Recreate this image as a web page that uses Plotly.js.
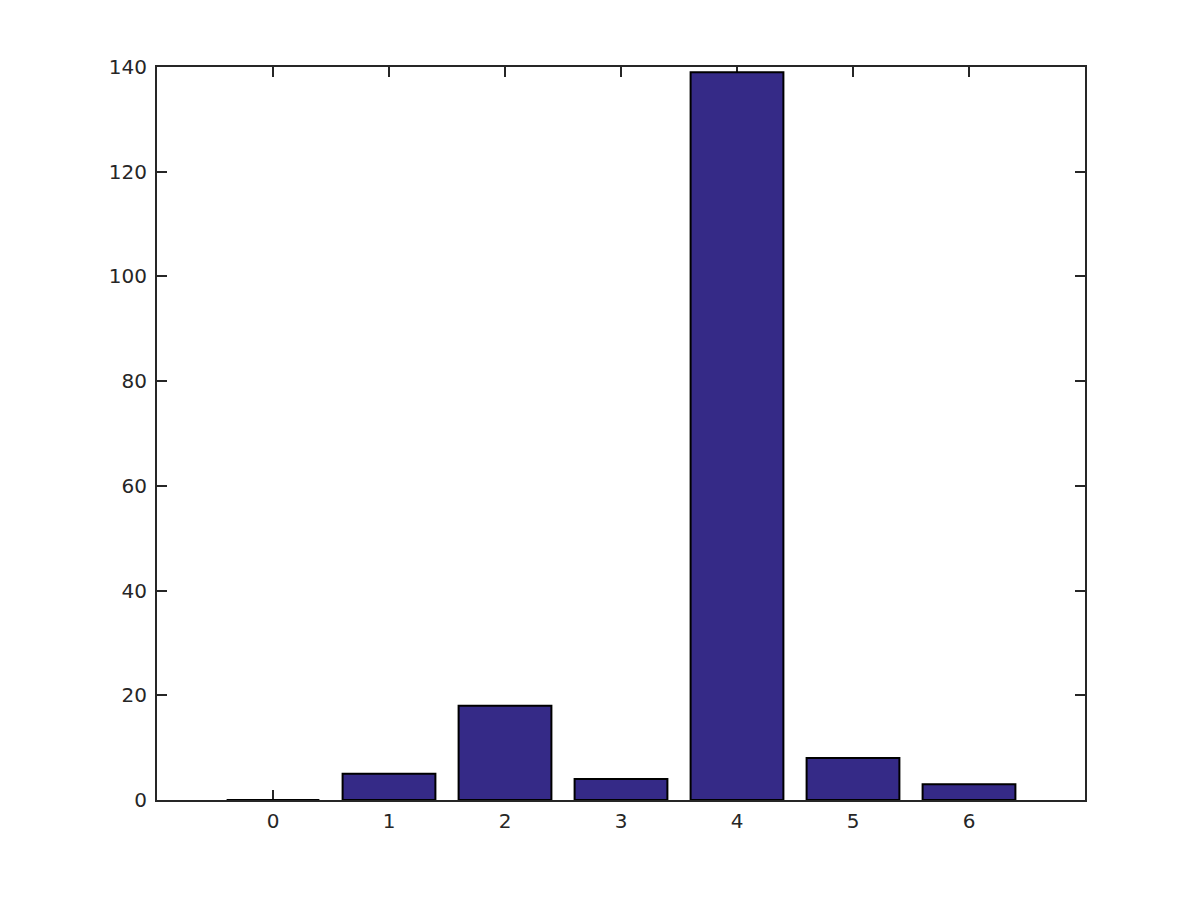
<!DOCTYPE html>
<html>
<head>
<meta charset="utf-8">
<script src="https://cdn.plot.ly/plotly-3.0.1.min.js"></script>
<style>html,body{margin:0;padding:0;background:#fff;}#chart{width:1200px;height:900px;}</style>
</head>
<body>
<div id="chart"></div>
<script>
const categories = [0, 1, 2, 3, 4, 5, 6];
const counts = [0, 5, 18, 4, 139, 8, 3];
const yTicks = [0, 20, 40, 60, 80, 100, 120, 140];

const axisColor = '#262626';
const trace = {
  type: 'bar',
  x: categories,
  y: counts,
  width: 0.8,
  marker: {color: '#352a87', line: {color: '#000000', width: 2}},
  hoverinfo: 'x+y'
};
const layout = {
  width: 1200, height: 900,
  margin: {l: 157, r: 115, t: 67, b: 100, pad: 0},
  paper_bgcolor: '#ffffff', plot_bgcolor: '#ffffff',
  showlegend: false,
  font: {family: 'DejaVu Sans, sans-serif', size: 20, color: axisColor},
  xaxis: {
    range: [-1, 7], tickvals: categories, ticktext: categories.map(String),
    ticks: 'inside', ticklen: 10, tickwidth: 2, tickcolor: axisColor,
    showline: true, linecolor: axisColor, linewidth: 2, mirror: 'ticks',
    showgrid: false, zeroline: false, fixedrange: true,
    layer: 'below traces', ticklabelstandoff: 2
  },
  yaxis: {
    range: [0, 140], tickvals: yTicks,
    ticks: 'inside', ticklen: 10, tickwidth: 2, tickcolor: axisColor,
    showline: true, linecolor: axisColor, linewidth: 2, mirror: 'ticks',
    showgrid: false, zeroline: false, fixedrange: true,
    layer: 'below traces', ticklabelstandoff: 4
  }
};
Plotly.newPlot('chart', [trace], layout, {displayModeBar: false, staticPlot: true});
</script>
</body>
</html>
